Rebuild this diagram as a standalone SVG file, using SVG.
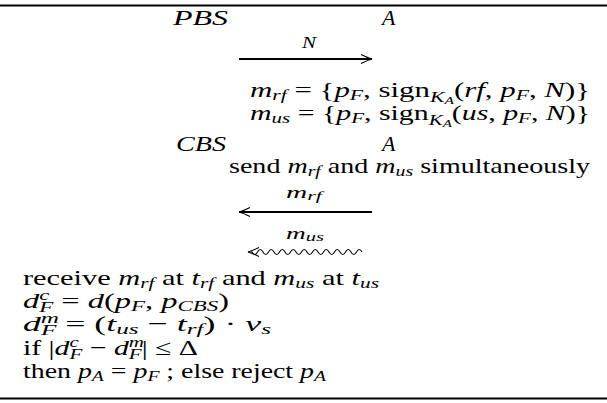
<svg xmlns="http://www.w3.org/2000/svg" width="607" height="403" viewBox="0 0 607 403">
<style>
text{font-family:"Liberation Serif","DejaVu Serif",serif;font-size:22px;fill:#000}
.i{font-style:italic}
.s{font-size:15.5px}
.ss{font-size:11px}
.lbl{font-size:16px;font-style:italic}
.lsub{font-size:12px;font-style:italic}
.rule{stroke:#000;stroke-width:2}
.arr{stroke:#000;stroke-width:2.2;fill:none}
.wav{stroke:#000;stroke-width:1.1;fill:none}
</style>
<defs>
<marker id="hd" markerWidth="14" markerHeight="12" refX="12" refY="6" orient="auto" markerUnits="userSpaceOnUse">
<path d="M1,1.5 Q8,5 12,6 Q8,7 1,10.5" fill="none" stroke="#000" stroke-width="1.1"/>
</marker>
</defs>
<line class="rule" x1="0" y1="5.5" x2="607" y2="5.5"/>
<line class="rule" x1="0" y1="398.5" x2="607" y2="398.5"/>
<g id="pbs"><text class="i" x="173" y="25" textLength="55" lengthAdjust="spacingAndGlyphs">PBS</text></g>
<g id="a1"><text class="i" x="382" y="25">A</text></g>
<g id="cbs"><text class="i" x="176" y="151" textLength="50" lengthAdjust="spacingAndGlyphs">CBS</text></g>
<g id="a2"><text class="i" x="382" y="151">A</text></g>
<g id="msgs"><text x="250" y="97" textLength="340" lengthAdjust="spacingAndGlyphs"><tspan class="i">m</tspan><tspan class="i s" dy="3">rf</tspan><tspan dy="-3"> = {</tspan><tspan class="i">p</tspan><tspan class="i s" dy="3">F</tspan><tspan dy="-3">, sign</tspan><tspan class="i s" dy="5">K</tspan><tspan class="i ss" dy="2">A</tspan><tspan dy="-7">(</tspan><tspan class="i">rf</tspan><tspan>, </tspan><tspan class="i">p</tspan><tspan class="i s" dy="3">F</tspan><tspan dy="-3">, </tspan><tspan class="i">N</tspan><tspan>)}</tspan></text>
<text x="250" y="120" textLength="340" lengthAdjust="spacingAndGlyphs"><tspan class="i">m</tspan><tspan class="i s" dy="3">us</tspan><tspan dy="-3"> = {</tspan><tspan class="i">p</tspan><tspan class="i s" dy="3">F</tspan><tspan dy="-3">, sign</tspan><tspan class="i s" dy="5">K</tspan><tspan class="i ss" dy="2">A</tspan><tspan dy="-7">(</tspan><tspan class="i">us</tspan><tspan>, </tspan><tspan class="i">p</tspan><tspan class="i s" dy="3">F</tspan><tspan dy="-3">, </tspan><tspan class="i">N</tspan><tspan>)}</tspan></text></g>
<g id="send"><text x="229" y="173" textLength="361" lengthAdjust="spacingAndGlyphs">send <tspan class="i">m</tspan><tspan class="i s" dy="3">rf</tspan><tspan dy="-3"> and </tspan><tspan class="i">m</tspan><tspan class="i s" dy="3">us</tspan><tspan dy="-3"> simultaneously</tspan></text></g>
<g id="connectors">
<line class="arr" x1="239" y1="59" x2="372" y2="59" marker-end="url(#hd)"/>
<line class="arr" x1="372" y1="212" x2="239" y2="212" marker-end="url(#hd)"/>
<path class="wav" d="M362,252 q-2.75,-5 -5.5,0 t-5.5,0 t-5.5,0 t-5.5,0 t-5.5,0 t-5.5,0 t-5.5,0 t-5.5,0 t-5.5,0 t-5.5,0 t-5.5,0 t-5.5,0 t-5.5,0 t-5.5,0 t-5.5,0 t-5.5,0 t-5.5,0 t-5.5,0 t-5.5,0 t-5.5,0 l-4,0" marker-end="url(#hd)"/>
<text class="lbl" x="302" y="48" textLength="14" lengthAdjust="spacingAndGlyphs">N</text>
<text x="286" y="198" textLength="36" lengthAdjust="spacingAndGlyphs"><tspan class="lbl">m</tspan><tspan class="lsub" dy="2">rf</tspan></text>
<text x="286" y="239" textLength="38" lengthAdjust="spacingAndGlyphs"><tspan class="lbl">m</tspan><tspan class="lsub" dy="2">us</tspan></text>
</g>
<g id="check">
<text x="23" y="285" textLength="356" lengthAdjust="spacingAndGlyphs">receive <tspan class="i">m</tspan><tspan class="i s" dy="3">rf</tspan><tspan dy="-3"> at </tspan><tspan class="i">t</tspan><tspan class="i s" dy="3">rf</tspan><tspan dy="-3"> and </tspan><tspan class="i">m</tspan><tspan class="i s" dy="3">us</tspan><tspan dy="-3"> at </tspan><tspan class="i">t</tspan><tspan class="i s" dy="3">us</tspan></text>
<text x="23" y="308" textLength="206" lengthAdjust="spacingAndGlyphs"><tspan class="i">d</tspan><tspan class="i s" dy="-8">c</tspan><tspan class="i s" dx="-6.9" dy="12">F</tspan><tspan dy="-4"> = </tspan><tspan class="i">d</tspan>(<tspan class="i">p</tspan><tspan class="i s" dy="3">F</tspan><tspan dy="-3">, </tspan><tspan class="i">p</tspan><tspan class="i s" dy="3">CBS</tspan><tspan dy="-3">)</tspan></text>
<text x="23" y="331" textLength="248" lengthAdjust="spacingAndGlyphs"><tspan class="i">d</tspan><tspan class="i s" dy="-8">m</tspan><tspan class="i s" dx="-11.2" dy="12">F</tspan><tspan dy="-4"> = (</tspan><tspan class="i">t</tspan><tspan class="i s" dy="3">us</tspan><tspan dy="-3"> − </tspan><tspan class="i">t</tspan><tspan class="i s" dy="3">rf</tspan><tspan dy="-3">) · </tspan><tspan class="i">v</tspan><tspan class="i s" dy="3">s</tspan></text>
<text x="23" y="355" textLength="175" lengthAdjust="spacingAndGlyphs">if |<tspan class="i">d</tspan><tspan class="i s" dy="-8">c</tspan><tspan class="i s" dx="-6.9" dy="12">F</tspan><tspan dy="-4"> − </tspan><tspan class="i">d</tspan><tspan class="i s" dy="-8">m</tspan><tspan class="i s" dx="-11.2" dy="12">F</tspan><tspan dy="-4">| ≤ Δ</tspan></text>
<text x="23" y="378" textLength="303" lengthAdjust="spacingAndGlyphs">then <tspan class="i">p</tspan><tspan class="i s" dy="3">A</tspan><tspan dy="-3"> = </tspan><tspan class="i">p</tspan><tspan class="i s" dy="3">F</tspan><tspan dy="-3"> ; else reject </tspan><tspan class="i">p</tspan><tspan class="i s" dy="3">A</tspan></text>
</g>
</svg>
